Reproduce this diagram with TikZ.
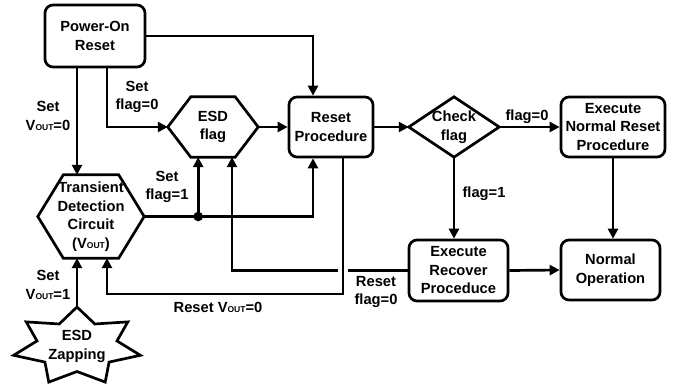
\documentclass[tikz,border=0pt]{standalone}
\usepackage{fontspec}
\setmainfont{Liberation Sans}
\usetikzlibrary{arrows.meta,calc}
\newcommand{\vout}{V{\fontsize{8.5pt}{9pt}\selectfont OUT}}
\begin{document}
\begin{tikzpicture}[x=1pt,y=-1pt,
  every node/.style={font=\fontsize{14.7pt}{18.5pt}\selectfont\bfseries, align=center, inner sep=0pt},
  ln/.style={line width=2.7pt, line join=miter},
  arr/.style={ln, -{Triangle[length=10pt,width=10pt]}},
  rbox/.style={draw, line width=2.7pt, rounded corners=8pt, minimum height=60pt},
  hexbox/.style={draw=none},
  lbl/.style={font=\fontsize{14.7pt}{18.5pt}\selectfont\bfseries}
]
\useasboundingbox (0,0) rectangle (681,389);

% nodes
\node[rbox, minimum width=100pt, minimum height=62pt] (por) at (95,36) {Power-On\\Reset};
\node[rbox, minimum width=84pt] (rp) at (331,127) {Reset\\Procedure};
\node[rbox, minimum width=104pt] (exn) at (613,127) {Execute\\Normal Reset\\Procedure};
\node[rbox, minimum width=99pt, minimum height=61pt] (exr) at (458.5,270.5) {Execute\\Recover\\Proceduce};
\node[rbox, minimum width=99pt] (no) at (610.5,270) {Normal\\Operation};

\node[hexbox, minimum width=90pt, minimum height=60pt] (esd) at (213,127) {ESD\\flag};
\draw[ln] (esd.west) -- ([xshift=23pt]esd.north west) -- ([xshift=-23pt]esd.north east)
  -- (esd.east) -- ([xshift=-23pt]esd.south east) -- ([xshift=23pt]esd.south west) -- cycle;

\node[hexbox, minimum width=106pt, minimum height=83pt] (tdc) at (91,216.5) {Transient\\Detection\\Circuit\\(\vout)};
\draw[ln] (tdc.west) -- ([xshift=25.5pt]tdc.north west) -- ([xshift=-25.5pt]tdc.north east)
  -- (tdc.east) -- ([xshift=-25.5pt]tdc.south east) -- ([xshift=25.5pt]tdc.south west) -- cycle;

\node[draw=none, minimum width=90pt, minimum height=60pt] (chk) at (454,127) {Check\\flag};
\draw[ln] (chk.west) -- (chk.north) -- (chk.east) -- (chk.south) -- cycle;

\node (zap) at (77,346.5) {ESD\\Zapping};
\draw[ln, shift={(zap.center)}] (90:65pt and 39.5pt)
  \foreach \k in {0,...,6} { -- ({115.714+51.428*\k}:41pt and 25pt) -- ({90+51.428*(\k+1)}:65pt and 39.5pt)} -- cycle;
\coordinate (zaptop) at ([yshift=39.5pt]zap.center);

% connectors
\draw[arr] (por.east) -| ([xshift=-18pt]rp.north);
\draw[arr] ([xshift=-18pt]por.south) -- ([xshift=-18pt]por.south |- tdc.north);
\draw[arr] ([xshift=12pt]por.south) |- (esd.west);
\draw[arr] (esd.east) -- (rp.west);
\draw[arr] (rp.east) -- (chk.west);
\draw[arr] (chk.east) -- (exn.west);
\draw[arr] (chk.south) -- (chk.south |- exr.north);
\draw[arr] (exn.south) -- (exn.south |- no.north);
\draw[arr] (exr.east) -- (no.west);
\draw[arr] (zaptop) -- (zaptop |- tdc.south);

\coordinate (dot) at ([xshift=54pt]tdc.east);
\draw[arr] (tdc.east) -| ([xshift=-18pt]rp.south);
\fill (dot) circle (4.8pt);
\draw[arr] (dot) -- (dot |- esd.south);

% return from Reset Procedure to Transient
\coordinate (rpdown) at ([xshift=12pt]rp.south);
\coordinate (rpcorner) at ($(rpdown)+(0,135.5)$);
\draw[arr] (rpdown) -- (rpcorner) -| ([xshift=16pt]tdc.south);

% from Execute Recover to ESD flag with hops
\coordinate (hopR) at ($(rpdown |- exr.west)+(5pt,0)$);
\coordinate (hopL) at ($(rpdown |- exr.west)+(-5pt,0)$);
\coordinate (vx) at ([xshift=19pt]esd.south);
\coordinate (vcorner) at (vx |- exr.west);
\coordinate (hopB) at ($(vx |- tdc.east)+(0,5pt)$);
\coordinate (hopT) at ($(vx |- tdc.east)+(0,-5pt)$);
\draw[ln] (exr.west) -- (hopR);
\draw[ln] (hopL) -- (vcorner) -- (hopB);
\draw[arr] (hopT) -- (vx);

% labels
\node[lbl] (l1) at (48,116) {Set\\\vout=0};
\node[lbl] (l2) at (137,97) {Set\\flag=0};
\node[lbl] (l3) at (167,187) {Set\\flag=1};
\node[lbl] (l4) at (48,285) {Set\\\vout=1};
\node[lbl] (l5) at (218,307) {Reset \vout=0};
\node[lbl] (l6) at (376,292) {Reset\\flag=0};
\node[lbl] (l7) at (527,117) {flag=0};
\node[lbl] (l8) at (484,194) {flag=1};
\end{tikzpicture}
\end{document}
